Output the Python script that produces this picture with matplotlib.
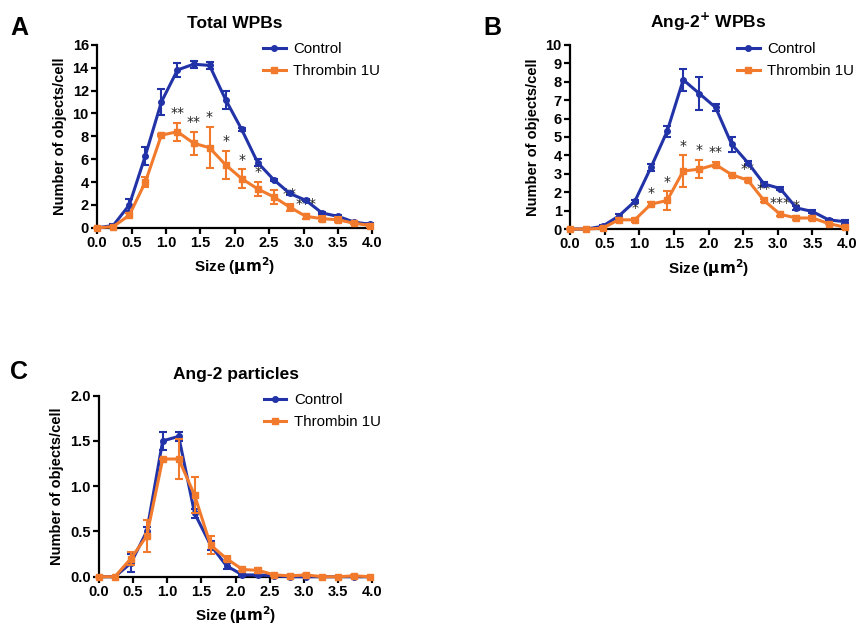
import numpy as np
import matplotlib.pyplot as plt
from matplotlib.lines import Line2D

plt.rcParams['font.family'] = ['Liberation Sans', 'DejaVu Sans']

# x positions of the size bins (um^2)
size = [0.0, 0.233, 0.467, 0.7, 0.933, 1.167, 1.4, 1.633, 1.867,
        2.1, 2.333, 2.567, 2.8, 3.033, 3.267, 3.5, 3.733, 3.967]

# Panel A - Total WPBs
a_ctrl = [0, 0.2, 2.0, 6.3, 11.0, 13.8, 14.3, 14.2, 11.2, 8.6, 5.7, 4.2, 3.0, 2.4, 1.3, 1.0, 0.5, 0.3]
a_ctrl_err = [0, 0.1, 0.5, 0.8, 1.1, 0.6, 0.3, 0.3, 0.8, 0.1, 0.3, 0.1, 0.1, 0.1, 0.1, 0.1, 0.1, 0.1]
a_thr = [0, 0.1, 1.1, 4.0, 8.1, 8.4, 7.4, 7.0, 5.5, 4.3, 3.4, 2.7, 1.8, 1.0, 0.8, 0.7, 0.4, 0.2]
a_thr_err = [0, 0, 0.2, 0.4, 0.1, 0.8, 1.0, 1.8, 1.2, 0.8, 0.6, 0.6, 0.3, 0.2, 0.2, 0.2, 0.1, 0.1]
a_stars = ['', '', '', '', '', '**', '**', '*', '*', '*', '*', '', '**', '***', '', '', '', '']

# Panel B - Ang-2+ WPBs
b_ctrl = [0, 0, 0.15, 0.7, 1.5, 3.35, 5.3, 8.1, 7.35, 6.6, 4.6, 3.6, 2.45, 2.2, 1.15, 0.95, 0.5, 0.4]
b_ctrl_err = [0, 0, 0.05, 0.1, 0.1, 0.2, 0.3, 0.6, 0.9, 0.2, 0.4, 0.1, 0.1, 0.1, 0.1, 0.1, 0.05, 0.1]
b_thr = [0, 0, 0.05, 0.5, 0.5, 1.35, 1.55, 3.15, 3.25, 3.5, 2.95, 2.65, 1.55, 0.8, 0.6, 0.6, 0.3, 0.1]
b_thr_err = [0, 0, 0.05, 0.1, 0.1, 0.1, 0.5, 0.85, 0.5, 0.15, 0.05, 0.1, 0.1, 0.1, 0.1, 0.1, 0.05, 0.05]
b_stars = ['', '', '', '', '*', '*', '*', '*', '*', '**', '', '**', '**', '***', '*', '', '', '']

# Panel C - Ang-2 particles
c_ctrl = [0, 0, 0.15, 0.5, 1.5, 1.55, 0.7, 0.35, 0.12, 0.02, 0.02, 0.01, 0, 0, 0, 0, 0, 0]
c_ctrl_err = [0, 0, 0.1, 0.05, 0.1, 0.05, 0.05, 0.05, 0.03, 0.01, 0.01, 0, 0, 0, 0, 0, 0, 0]
c_thr = [0, 0, 0.2, 0.45, 1.3, 1.3, 0.9, 0.35, 0.2, 0.08, 0.07, 0.02, 0.01, 0.02, 0, 0, 0.01, 0]
c_thr_err = [0, 0, 0.07, 0.18, 0.0, 0.22, 0.2, 0.1, 0.03, 0.02, 0.03, 0.01, 0, 0.01, 0, 0, 0.01, 0]

blue = '#2233a8'
orange = '#f27a2c'


def draw(ax, ctrl, ctrl_err, thr, thr_err, stars, ymax, ystep, yfmt, title):
    ax.errorbar(size, ctrl, yerr=ctrl_err, color=blue, marker='o', ms=4,
                lw=2.2, elinewidth=1.5, capsize=3, capthick=1.5,
                clip_on=False, zorder=3)
    ax.errorbar(size, thr, yerr=thr_err, color=orange, marker='s', ms=4,
                lw=2.2, elinewidth=1.5, capsize=3, capthick=1.5,
                clip_on=False, zorder=4)
    off = ymax * 0.015
    for x, y, e, s in zip(size, thr, thr_err, stars):
        if s:
            ax.text(x, y + e + off, s, ha='center', va='bottom',
                    fontsize=10, family='DejaVu Sans', color='#222222')
    ax.set_xlim(0, 4)
    ax.set_ylim(0, ymax)
    ax.set_xticks(np.arange(0, 4.01, 0.5))
    ax.set_xticklabels(['%.1f' % t for t in np.arange(0, 4.01, 0.5)])
    yt = np.arange(0, ymax + 1e-9, ystep)
    ax.set_yticks(yt)
    ax.set_yticklabels([yfmt % t for t in yt])
    for sp in ['top', 'right']:
        ax.spines[sp].set_visible(False)
    for sp in ['left', 'bottom']:
        ax.spines[sp].set_linewidth(1.6)
    ax.tick_params(width=1.6, length=4, labelsize=10.5, pad=2)
    for lab in ax.get_xticklabels() + ax.get_yticklabels():
        lab.set_fontweight('bold')
    ax.set_xlabel('Size ($\\mathbf{\\mu m^2}$)', fontsize=11, fontweight='bold')
    ax.set_ylabel('Number of objects/cell', fontsize=10.5, fontweight='bold')
    ax.set_title(title, fontsize=12.5, fontweight='bold', pad=12)
    handles = [Line2D([], [], color=blue, marker='o', ms=4, lw=2.2),
               Line2D([], [], color=orange, marker='s', ms=4, lw=2.2)]
    ax.legend(handles, ['Control', 'Thrombin 1U'], loc='upper left',
              bbox_to_anchor=(0.565, 1.07), frameon=False, fontsize=10.8,
              handlelength=1.5, handletextpad=0.5, borderpad=0.2,
              labelspacing=0.5)


fig = plt.figure(figsize=(8.6, 6.31), dpi=100)
ax1 = fig.add_axes([0.113, 0.639, 0.320, 0.290])
ax2 = fig.add_axes([0.663, 0.637, 0.322, 0.292])
ax3 = fig.add_axes([0.115, 0.086, 0.318, 0.287])

draw(ax1, a_ctrl, a_ctrl_err, a_thr, a_thr_err, a_stars, 16, 2, '%d', 'Total WPBs')
draw(ax2, b_ctrl, b_ctrl_err, b_thr, b_thr_err, b_stars, 10, 1, '%d',
     'Ang-2$^{\\mathbf{+}}$ WPBs')
draw(ax3, c_ctrl, c_ctrl_err, c_thr, c_thr_err, [''] * 18, 2.0, 0.5, '%.1f',
     'Ang-2 particles')

fig.text(0.012, 0.955, 'A', fontsize=18, fontweight='bold', va='center')
fig.text(0.562, 0.955, 'B', fontsize=18, fontweight='bold', va='center')
fig.text(0.012, 0.41, 'C', fontsize=18, fontweight='bold', va='center')

fig.savefig('out.png', dpi=100)
